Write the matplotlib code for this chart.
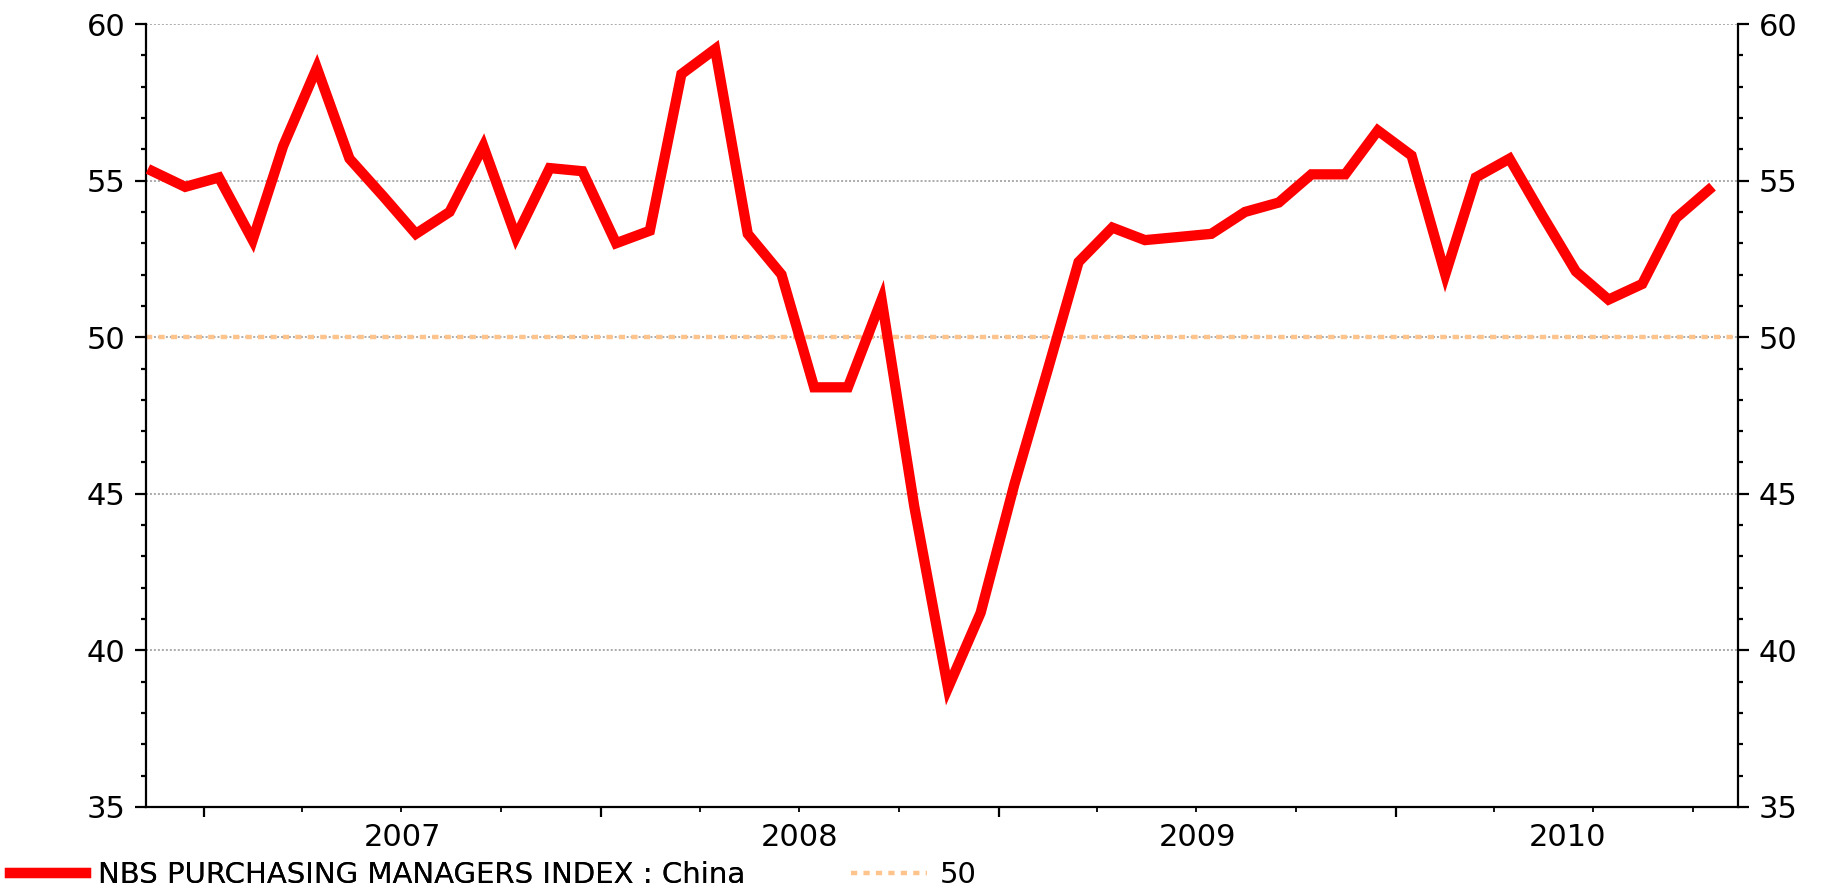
import matplotlib
matplotlib.use("Agg")
import matplotlib.pyplot as plt
import matplotlib.dates as mdates
import pandas as pd
import numpy as np

plt.rcParams['font.family'] = ['DejaVu Sans']

start_month = "2006-11-01"
pmi = [55.3, 54.8,
       55.1, 53.1, 56.1, 58.6, 55.7, 54.5, 53.3, 54.0, 56.1, 53.2, 55.4, 55.3,
       53.0, 53.4, 58.4, 59.2, 53.3, 52.0, 48.4, 48.4, 51.2, 44.6, 38.8, 41.2,
       45.3, 49.0, 52.4, 53.5, 53.1, 53.2, 53.3, 54.0, 54.3, 55.2, 55.2, 56.6,
       55.8, 52.0, 55.1, 55.7, 53.9, 52.1, 51.2, 51.7, 53.8, 54.7]
years = [2007, 2008, 2009, 2010]
yticks = [35, 40, 45, 50, 55, 60]
threshold = 50
series_label = "NBS PURCHASING MANAGERS INDEX : China"
threshold_label = "50"

dates = pd.date_range(start_month, periods=len(pmi), freq="MS") + pd.Timedelta(days=14)

W, H = 1829, 890
fig = plt.figure(figsize=(W/100, H/100), dpi=100)
ax = fig.add_axes([146/W, 1-807/H, (1738-146)/W, (807-24)/H])

xmin = pd.Timestamp("2006-11-09")
xmax = pd.Timestamp("2010-11-11")
ax.set_xlim(xmin, xmax)
ax.set_ylim(35, 60)

for y in yticks:
    ax.axhline(y, color="#a5a5a5", linestyle=(0, (1.1, 1.1)), linewidth=1.3, zorder=1)

thr_line = ax.axhline(threshold, color="#FFC48C", linestyle=(0, (1.4, 1.4)),
                      linewidth=3.2, zorder=2, label=threshold_label)
pmi_line, = ax.plot(dates, pmi, color="#FF0000", linewidth=7.4, solid_joinstyle="miter",
                    zorder=3, label=series_label)

ax.set_yticks(yticks)
ax.yaxis.set_minor_locator(plt.MultipleLocator(1))
ax.tick_params(axis="y", which="both", left=True, right=True, labelleft=True,
               labelright=True, direction="out", width=1.6, labelsize=22, pad=7)
ax.tick_params(axis="y", which="major", length=8)
ax.tick_params(axis="y", which="minor", length=3.8)

ax.xaxis.set_major_locator(mdates.YearLocator())
ax.xaxis.set_minor_locator(mdates.MonthLocator(bymonth=[4, 7, 10]))
ax.xaxis.set_major_formatter(plt.NullFormatter())
ax.tick_params(axis="x", which="major", length=7.5, width=1.6, direction="out")
ax.tick_params(axis="x", which="minor", length=3.6, width=1.3, direction="out")

trans = ax.get_xaxis_transform()
for yr in years:
    a = max(pd.Timestamp(f"{yr}-01-01"), xmin)
    b = min(pd.Timestamp(f"{yr+1}-01-01"), xmax)
    mid = a + (b - a) / 2
    ax.text(mdates.date2num(mid), (807-846)/783, str(yr), transform=trans,
            ha="center", va="baseline", fontsize=22)

for side in ["left", "right", "bottom"]:
    ax.spines[side].set_linewidth(1.6)
    ax.spines[side].set_color("black")
ax.spines["top"].set_visible(False)

leg1 = fig.legend([pmi_line], [series_label], loc="center left",
                  bbox_to_anchor=(10/W, 1-875/H), frameon=False,
                  fontsize=21, handlelength=2.6, handletextpad=0.43,
                  borderaxespad=0, borderpad=0)
fig.add_artist(leg1)
leg2 = fig.legend([thr_line], [threshold_label], loc="center left",
                  bbox_to_anchor=(851/W, 1-875/H), frameon=False,
                  fontsize=21, handlelength=2.6, handletextpad=0.43,
                  borderaxespad=0, borderpad=0)

fig.savefig("out.png", dpi=100)
